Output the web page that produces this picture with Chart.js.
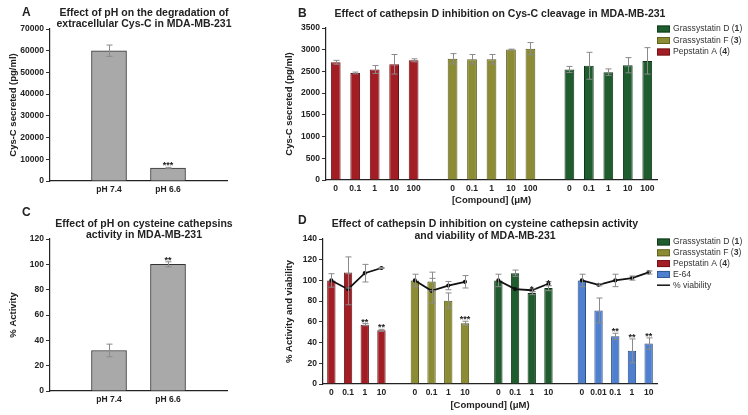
<!DOCTYPE html>
<html>
<head>
<meta charset="utf-8">
<script src="https://cdn.jsdelivr.net/npm/chart.js@4.4.0/dist/chart.umd.min.js"></script>
<style>
  body { margin: 0; background: #fff; width: 748px; height: 415px; position: relative; overflow: hidden; }
  .panel { position: absolute; }
</style>
</head>
<body>
<div class="panel" style="left:0;top:0;width:240px;height:205px"><canvas id="chartA"></canvas></div>
<div class="panel" style="left:240px;top:0;width:508px;height:208px"><canvas id="chartB"></canvas></div>
<div class="panel" style="left:0;top:205px;width:240px;height:210px"><canvas id="chartC"></canvas></div>
<div class="panel" style="left:240px;top:205px;width:508px;height:210px"><canvas id="chartD"></canvas></div>
<script>
// panel A / C
const phLabels = ['pH 7.4', 'pH 6.6'];
const cysSecreted = [60000, 6000];
const cysSecretedErr = [2600, 300];
const cysStars = ['', '***'];
const activityPh = [32, 100];
const activityPhErr = [5, 2];
const activityStars = ['', '**'];

// panel B
const compoundNames = ['Grassystatin D', 'Grassystatin F', 'Pepstatin A'];
const compoundNumbers = ['1', '3', '4'];
const dosesB = ['0', '0.1', '1', '10', '100'];
const pepstatinB = [2710, 2465, 2545, 2665, 2755];
const pepstatinBErr = [45, 20, 90, 225, 35];
const grassFB = [2790, 2780, 2780, 3003, 3025];
const grassFBErr = [120, 110, 110, 10, 140];
const grassDB = [2545, 2630, 2483, 2643, 2743];
const grassDBErr = [70, 310, 75, 175, 305];

// panel D
const dosesD = ['0', '0.1', '1', '10'];
const dosesE64 = ['0', '0.01', '0.1', '1', '10'];
const pepstatinD = [100, 107.7, 57.3, 51.8];
const pepstatinDErr = [6.5, 15, 1, 1];
const pepstatinDStars = ['', '', '**', '**'];
const grassFD = [100, 99, 80.4, 58.6];
const grassFDErr = [6, 9, 7.5, 2];
const grassFDStars = ['', '', '', '***'];
const grassDD = [100, 107, 87.8, 92.6];
const grassDDErr = [6, 3, 1.5, 2.5];
const grassDDStars = ['', '', '*', '*'];
const e64D = [100, 71, 46, 32, 39];
const e64DErr = [6, 12, 3, 11.5, 5.5];
const e64DStars = ['', '', '**', '**', '**'];
const viabPep = [100, 91.5, 107, 112];
const viabPepErr = [0, 15, 8.5, 0.5];
const viabGF = [100, 90, 95, 98.7];
const viabGFErr = [0, 12, 4, 6];
const viabGD = [100, 91.7, 90.5, 96.8];
const viabGDErr = [0, 0, 1.5, 2];
const viabE64 = [100, 95.8, 100, 102.3, 107.7];
const viabE64Err = [0, 1, 6, 2, 1.5];

const colors = {
    red: '#a31d24', redLine: '#6a1015',
    olive: '#8c8c35', oliveLine: '#5a5a1c',
    green: '#1f5c2e', greenLine: '#10361a',
    blue: '#4f80cf', blueLine: '#2c4e88',
    grey: '#a9a9a9', greyLine: '#333'
};
const family = '"Liberation Sans", Arial, sans-serif';
Chart.defaults.font.family = family;
Chart.defaults.color = '#222';
Chart.defaults.animation = false;

// slot helpers: groups of categories with one empty slot between them
function slotLabels(groups) {
    let out = [];
    groups.forEach((g, i) => {
        if (i > 0) out.push('');
        out = out.concat(g);
    });
    return out;
}
function place(values, start, total) {
    const out = new Array(total).fill(null);
    values.forEach((v, i) => out[start + i] = v);
    return out;
}

const errorBars = {
    id: 'errorBars',
    afterDatasetsDraw(chart) {
        const ctx = chart.ctx, yScale = chart.scales.y;
        chart.data.datasets.forEach((ds, di) => {
            if (!ds.errors) return;
            const meta = chart.getDatasetMeta(di);
            ctx.save();
            ctx.strokeStyle = '#8a8a8a';
            ctx.lineWidth = 1;
            meta.data.forEach((el, i) => {
                const v = ds.data[i], e = ds.errors[i];
                if (v == null || !e) return;
                const top = yScale.getPixelForValue(v + e);
                const bot = yScale.getPixelForValue(v - e);
                const x = Math.round(el.x) + 0.5;
                ctx.beginPath();
                ctx.moveTo(x, top); ctx.lineTo(x, bot);
                ctx.moveTo(x - 3, top); ctx.lineTo(x + 3, top);
                ctx.moveTo(x - 3, bot); ctx.lineTo(x + 3, bot);
                ctx.stroke();
            });
            ctx.restore();
        });
        // significance stars
        chart.data.datasets.forEach((ds, di) => {
            if (!ds.stars) return;
            const meta = chart.getDatasetMeta(di);
            ctx.save();
            ctx.fillStyle = '#222';
            ctx.font = 'bold 9px ' + family;
            ctx.textAlign = 'center';
            ctx.textBaseline = 'bottom';
            meta.data.forEach((el, i) => {
                const s = ds.stars[i];
                if (!s) return;
                const top = yScale.getPixelForValue(ds.data[i] + (ds.errors ? ds.errors[i] : 0));
                ctx.fillText(s, el.x, top + 3);
            });
            ctx.restore();
        });
    }
};

const panelText = {
    id: 'panelText',
    afterDraw(chart, args, o) {
        const ctx = chart.ctx;
        ctx.save();
        ctx.fillStyle = '#222';
        ctx.textBaseline = 'middle';
        ctx.font = 'bold 12px ' + family;
        ctx.textAlign = 'left';
        ctx.fillText(o.letter, o.letterX, o.letterY);
        ctx.font = 'bold 10.5px ' + family;
        ctx.textAlign = 'center';
        o.lines.forEach((t, i) => ctx.fillText(t, o.titleX, o.titleY + i * o.lineHeight));
        ctx.restore();
    }
};

const sideLegend = {
    id: 'sideLegend',
    afterDraw(chart, args, o) {
        if (!o.items) return;
        const ctx = chart.ctx;
        ctx.save();
        ctx.textBaseline = 'middle';
        o.items.forEach((item, i) => {
            const y = o.y + i * o.spacing;
            if (item.line) {
                ctx.strokeStyle = item.line;
                ctx.lineWidth = 1.5;
                ctx.beginPath();
                ctx.moveTo(o.x, y); ctx.lineTo(o.x + 13, y);
                ctx.stroke();
            } else {
                ctx.fillStyle = item.fill;
                ctx.fillRect(o.x, y - 3.5, 13, 7);
                ctx.strokeStyle = item.border;
                ctx.lineWidth = 0.8;
                ctx.strokeRect(o.x + 0.5, y - 3, 12, 6);
            }
            let x = o.x + 16;
            ctx.fillStyle = '#333';
            item.parts.forEach(p => {
                ctx.font = (p.bold ? 'bold ' : '') + '8.6px ' + family;
                ctx.fillText(p.text, x, y);
                x += ctx.measureText(p.text).width;
            });
        });
        ctx.restore();
    }
};

function compoundParts(k) {
    return [{ text: compoundNames[k] + ' (' }, { text: compoundNumbers[k], bold: true }, { text: ')' }];
}

function yAxis(max, step, title, width, titlePad) {
    return {
        min: 0, max: max,
        afterFit: s => { s.width = width; },
        ticks: { stepSize: step, callback: v => String(v), font: { size: 8.5, weight: 'bold' }, padding: 2, color: '#222' },
        grid: { drawOnChartArea: false, drawTicks: true, tickLength: 4, color: '#333' },
        border: { display: true, color: '#222', width: 1.2 },
        title: { display: true, text: title, font: { size: 9.5, weight: 'bold' }, color: '#222', padding: { top: titlePad, bottom: 0 } }
    };
}

function phChart(id, values, errs, stars, yMax, yStep, yTitle, text, areaTop) {
    // empty end slots so the two bars sit inside the axis
    const labels = ['', ...phLabels, ''];
    new Chart(document.getElementById(id), {
        type: 'bar',
        data: {
            labels: labels,
            datasets: [{
                data: place(values, 1, labels.length),
                errors: place(errs, 1, labels.length),
                stars: place(stars, 1, labels.length),
                backgroundColor: colors.grey,
                borderColor: colors.greyLine,
                borderWidth: 1,
                barThickness: 35
            }]
        },
        options: {
            responsive: true,
            maintainAspectRatio: false,
            layout: { padding: { top: areaTop, right: 13, left: 0, bottom: 0 } },
            scales: {
                x: {
                    offset: false,
                    afterFit: s => { s.height = 24; },
                    ticks: { font: { size: 8.5, weight: 'bold' }, padding: 4, color: '#222', autoSkip: false, maxRotation: 0 },
                    grid: { display: false, drawTicks: false },
                    border: { display: true, color: '#222', width: 1.2 }
                },
                y: yAxis(yMax, yStep, yTitle, 50, 8)
            },
            plugins: { legend: { display: false }, tooltip: { enabled: false }, panelText: text }
        },
        plugins: [errorBars, panelText]
    });
}

phChart('chartA', cysSecreted, cysSecretedErr, cysStars, 70000, 10000, 'Cys-C secreted (pg/ml)',
    { letter: 'A', letterX: 22, letterY: 13, lines: ['Effect of pH on the degradation of', 'extracellular Cys-C in MDA-MB-231'], titleX: 144, titleY: 13, lineHeight: 11 }, 29);

phChart('chartC', activityPh, activityPhErr, activityStars, 120, 20, '% Activity',
    { letter: 'C', letterX: 22, letterY: 8, lines: ['Effect of pH on cysteine cathepsins', 'activity in MDA-MB-231'], titleX: 144, titleY: 19, lineHeight: 11 }, 34);

// panel B
const labelsB = slotLabels([dosesB, dosesB, dosesB]);
const nB = labelsB.length;
const barStyle = { barPercentage: 0.5, categoryPercentage: 1, borderWidth: 1, grouped: false, order: 1 };

new Chart(document.getElementById('chartB'), {
    type: 'bar',
    data: {
        labels: labelsB,
        datasets: [
            { label: compoundNames[2], data: place(pepstatinB, 0, nB), errors: place(pepstatinBErr, 0, nB), backgroundColor: colors.red, borderColor: colors.redLine, ...barStyle },
            { label: compoundNames[1], data: place(grassFB, 6, nB), errors: place(grassFBErr, 6, nB), backgroundColor: colors.olive, borderColor: colors.oliveLine, ...barStyle },
            { label: compoundNames[0], data: place(grassDB, 12, nB), errors: place(grassDBErr, 12, nB), backgroundColor: colors.green, borderColor: colors.greenLine, ...barStyle }
        ]
    },
    options: {
        responsive: true,
        maintainAspectRatio: false,
        layout: { padding: { top: 28, right: 91, left: 0, bottom: 0 } },
        scales: {
            x: {
                afterFit: s => { s.height = 28; },
                ticks: { font: { size: 8.5, weight: 'bold' }, padding: 4, color: '#222', autoSkip: false, maxRotation: 0 },
                grid: { display: false, drawTicks: false },
                border: { display: true, color: '#222', width: 1.2 },
                title: { display: true, text: '[Compound] (μM)', font: { size: 9.5, weight: 'bold' }, color: '#222', padding: { top: 0, bottom: 2 } }
            },
            y: yAxis(3500, 500, 'Cys-C secreted (pg/ml)', 86, 44)
        },
        plugins: {
            legend: { display: false }, tooltip: { enabled: false },
            panelText: { letter: 'B', letterX: 58, letterY: 14, lines: ['Effect of cathepsin D inhibition on Cys-C cleavage in MDA-MB-231'], titleX: 260, titleY: 14, lineHeight: 11 },
            sideLegend: {
                x: 417, y: 29, spacing: 11.5,
                items: [
                    { fill: colors.green, border: colors.greenLine, parts: compoundParts(0) },
                    { fill: colors.olive, border: colors.oliveLine, parts: compoundParts(1) },
                    { fill: colors.red, border: colors.redLine, parts: compoundParts(2) }
                ]
            }
        }
    },
    plugins: [errorBars, panelText, sideLegend]
});

// panel D
const labelsD = slotLabels([dosesD, dosesD, dosesD, dosesE64]);
const nD = labelsD.length;
const viability = place(viabPep, 0, nD), viabilityErr = place(viabPepErr, 0, nD);
[[viabGF, viabGFErr, 5], [viabGD, viabGDErr, 10], [viabE64, viabE64Err, 15]].forEach(([v, e, s]) => {
    v.forEach((val, i) => { viability[s + i] = val; viabilityErr[s + i] = e[i]; });
});

new Chart(document.getElementById('chartD'), {
    type: 'bar',
    data: {
        labels: labelsD,
        datasets: [
            { type: 'line', label: '% viability', data: viability, errors: viabilityErr, borderColor: '#111', backgroundColor: '#111', borderWidth: 1.8, pointRadius: 1.2, spanGaps: false, order: 0 },
            { label: compoundNames[2], data: place(pepstatinD, 0, nD), errors: place(pepstatinDErr, 0, nD), stars: place(pepstatinDStars, 0, nD), backgroundColor: colors.red, borderColor: colors.redLine, ...barStyle },
            { label: compoundNames[1], data: place(grassFD, 5, nD), errors: place(grassFDErr, 5, nD), stars: place(grassFDStars, 5, nD), backgroundColor: colors.olive, borderColor: colors.oliveLine, ...barStyle },
            { label: compoundNames[0], data: place(grassDD, 10, nD), errors: place(grassDDErr, 10, nD), stars: place(grassDDStars, 10, nD), backgroundColor: colors.green, borderColor: colors.greenLine, ...barStyle },
            { label: 'E-64', data: place(e64D, 15, nD), errors: place(e64DErr, 15, nD), stars: place(e64DStars, 15, nD), backgroundColor: colors.blue, borderColor: colors.blueLine, ...barStyle }
        ]
    },
    options: {
        responsive: true,
        maintainAspectRatio: false,
        layout: { padding: { top: 34, right: 91, left: 0, bottom: 0 } },
        scales: {
            x: {
                afterFit: s => { s.height = 31; },
                ticks: { font: { size: 8.5, weight: 'bold' }, padding: 4, color: '#222', autoSkip: false, maxRotation: 0 },
                grid: { display: false, drawTicks: false },
                border: { display: true, color: '#222', width: 1.2 },
                title: { display: true, text: '[Compound] (μM)', font: { size: 9.5, weight: 'bold' }, color: '#222', padding: { top: 0, bottom: 4 } }
            },
            y: yAxis(140, 20, '% Activity and viability', 83, 44)
        },
        plugins: {
            legend: { display: false }, tooltip: { enabled: false },
            panelText: { letter: 'D', letterX: 58, letterY: 16, lines: ['Effect of cathepsin D inhibition on cysteine cathepsin activity', 'and viability of MDA-MB-231'], titleX: 245, titleY: 19, lineHeight: 12 },
            sideLegend: {
                x: 417, y: 37, spacing: 10.8,
                items: [
                    { fill: colors.green, border: colors.greenLine, parts: compoundParts(0) },
                    { fill: colors.olive, border: colors.oliveLine, parts: compoundParts(1) },
                    { fill: colors.red, border: colors.redLine, parts: compoundParts(2) },
                    { fill: colors.blue, border: colors.blueLine, parts: [{ text: 'E-64' }] },
                    { line: '#111', parts: [{ text: '% viability' }] }
                ]
            }
        }
    },
    plugins: [errorBars, panelText, sideLegend]
});
</script>
</body>
</html>
